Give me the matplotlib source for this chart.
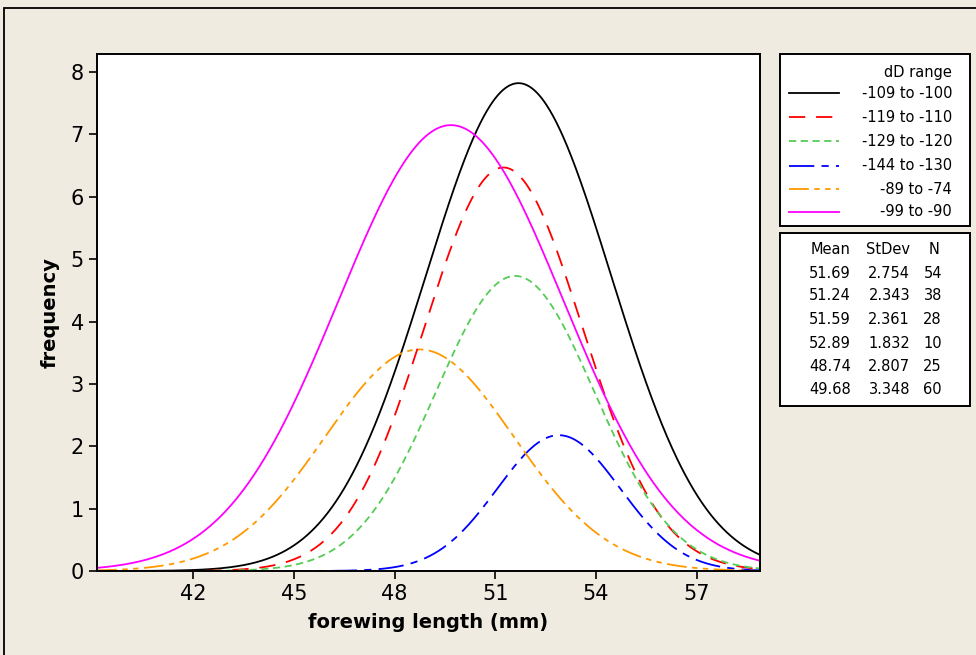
import numpy as np
import matplotlib
matplotlib.use("Agg")
import matplotlib.pyplot as plt
from matplotlib.lines import Line2D
from matplotlib.patches import Rectangle

# ---- data (from the chart's statistics table) ----
groups = ["-109 to -100", "-119 to -110", "-129 to -120", "-144 to -130", "-89 to -74", "-99 to -90"]
means = [51.69, 51.24, 51.59, 52.89, 48.74, 49.68]
stdevs = [2.754, 2.343, 2.361, 1.832, 2.807, 3.348]
counts = [54, 38, 28, 10, 25, 60]
xticks = [42, 45, 48, 51, 54, 57]
yticks = [0, 1, 2, 3, 4, 5, 6, 7, 8]

colors = ["#000000", "#ff0000", "#55cc55", "#0000ff", "#ff9900", "#ff00ff"]
styles = ["-", (0, (9, 6)), (0, (4, 2.5)), (0, (14, 4, 4, 4)), (0, (11, 3, 3, 3, 3, 3)), "-"]

W, H = 976, 655
fig = plt.figure(figsize=(W / 100, H / 100), dpi=100)
fig.patch.set_facecolor("#efebe1")
plt.rcParams['font.family'] = ['DejaVu Sans']

# outer frame
fig.add_artist(Rectangle((4 / W, -0.1), 1.2, 1 - 8 / H + 0.1, transform=fig.transFigure,
                         fill=False, edgecolor="black", lw=1.3))

def fx(px):
    return px / W

def fy(py):
    return 1 - py / H

ax = fig.add_axes([fx(97), fy(571), fx(760) - fx(97), fy(54) - fy(571)])
ax.set_facecolor("white")
xmin, xmax = 39.14, 58.88
x = np.linspace(xmin, xmax, 800)
for m, s, n, c, ls in zip(means, stdevs, counts, colors, styles):
    y = n * np.exp(-0.5 * ((x - m) / s) ** 2) / (s * np.sqrt(2 * np.pi))
    ax.plot(x, y, color=c, linestyle=ls, lw=1.3)

ax.set_xlim(xmin, xmax)
ax.set_ylim(0, 8.29)
ax.set_xticks(xticks)
ax.set_yticks(yticks)
ax.tick_params(direction="out", length=6, width=1.2, labelsize=15)
for sp in ax.spines.values():
    sp.set_linewidth(1.4)
ax.set_xlabel("forewing length (mm)", fontsize=14, fontweight="bold", labelpad=6)
ax.set_ylabel("frequency", fontsize=14, fontweight="bold", labelpad=8)

# legend box 1
def box(x0, y0, x1, y1):
    fig.add_artist(Rectangle((fx(x0), fy(y1)), fx(x1) - fx(x0), fy(y0) - fy(y1),
                             transform=fig.transFigure, facecolor="white",
                             edgecolor="black", lw=1.4))

box(780, 54, 970, 226)
fig.text(fx(952), fy(72), "dD range", ha="right", va="center", fontsize=10.5)
row_y = [93, 117, 141, 166, 189, 212]
for g, c, ls, ry in zip(groups, colors, styles, row_y):
    fig.add_artist(Line2D([fx(789), fx(839)], [fy(ry), fy(ry)], transform=fig.transFigure,
                          color=c, linestyle=ls, lw=1.3))
    fig.text(fx(952), fy(ry), g, ha="right", va="center", fontsize=10.5)

# statistics box
box(780, 233, 970, 406)
fig.text(fx(851), fy(250), "Mean", ha="right", va="center", fontsize=10.5)
fig.text(fx(910), fy(250), "StDev", ha="right", va="center", fontsize=10.5)
fig.text(fx(940), fy(250), "N", ha="right", va="center", fontsize=10.5)
stat_y = [273, 296, 320, 343, 367, 390]
for m, s, n, ry in zip(means, stdevs, counts, stat_y):
    fig.text(fx(851), fy(ry), f"{m:.2f}", ha="right", va="center", fontsize=10.5)
    fig.text(fx(910), fy(ry), f"{s:.3f}", ha="right", va="center", fontsize=10.5)
    fig.text(fx(942), fy(ry), f"{n}", ha="right", va="center", fontsize=10.5)

fig.savefig("out.png", dpi=100, facecolor=fig.get_facecolor())
